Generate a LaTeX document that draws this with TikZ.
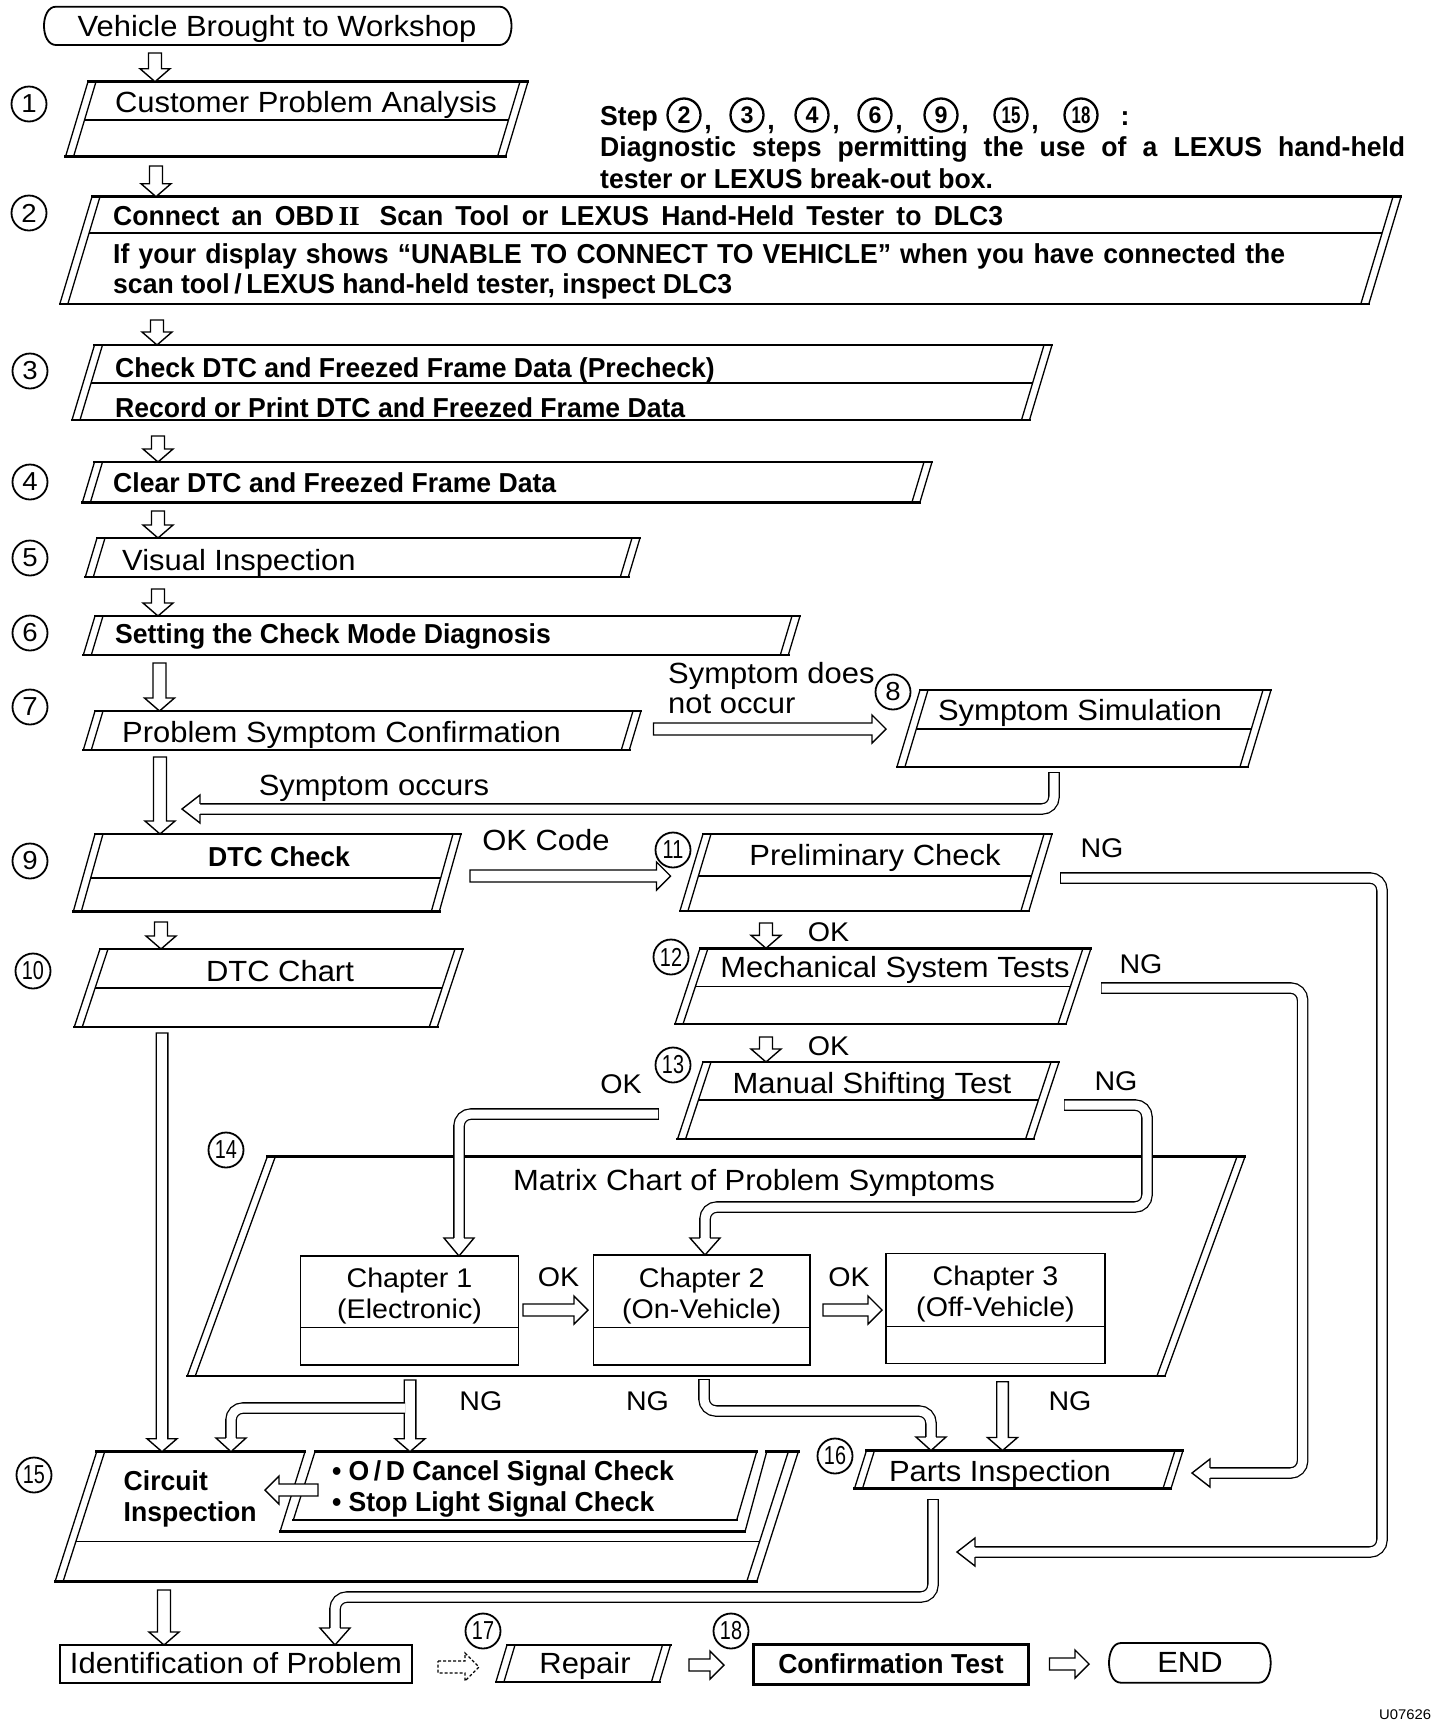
\documentclass[tikz,border=0pt]{standalone}
\usepackage{fontspec}
\setmainfont{Liberation Sans}[FakeStretch=1.06]
\newfontfamily\bfam{Liberation Sans}[FakeStretch=0.97]
\newfontfamily\romII{Liberation Serif}

\tikzset{
  edgeline/.style={line width=2.6pt, line cap=rect},
  sideline/.style={line width=1.3pt},
  divline/.style={line width=1.3pt},
  hol/.style={draw, fill=white, line width=1.4pt, line join=miter},
  pipe/.style={line width=1.3pt, double=white, double distance=9pt, rounded corners=12pt},
  rt/.style={inner sep=0pt, font=\fontsize{29.2}{30}\selectfont},
  rs/.style={inner sep=0pt, font=\fontsize{27}{28}\selectfont},
  bt/.style={inner sep=0pt, font=\bfam\bfseries\fontsize{27.4}{29}\selectfont},
  cnum/.style={circle, draw, line width=1.8pt, minimum size=35pt, inner sep=0pt, font=\fontsize{26}{26}\selectfont},
  snum/.style={circle, draw, line width=2.3pt, minimum size=33pt, inner sep=0pt, font=\bfam\bfseries\fontsize{24}{24}\selectfont},
}

% parallelogram with double slanted sides: xl, xr (top outer), ytop, ybot, slope
\newcommand\myBox[5]{%
  \pgfmathsetmacro\myS{#5*(#4-#3)}%
  \fill[white] (#1,#3) -- (#2,#3) -- ({#2-\myS},#4) -- ({#1-\myS},#4) -- cycle;
  \draw[edgeline] (#1,#3) -- (#2,#3) ({#1-\myS},#4) -- ({#2-\myS},#4);
  \draw[sideline] (#1,#3) -- ({#1-\myS},#4) ({#1+8},#3) -- ({#1+8-\myS},#4)
     (#2,#3) -- ({#2-\myS},#4) ({#2-8},#3) -- ({#2-8-\myS},#4);
}
% divider: xl, xr, ytop, ydiv, slope
\newcommand\myDiv[5]{%
  \pgfmathsetmacro\myD{#5*(#4-#3)}%
  \draw[divline] ({#1+8-\myD},#4) -- ({#2-8-\myD},#4);
}
% hollow down arrow [shaft width] x, y1, y2(tip)
\newcommand\dArr[4][13]{%
  \pgfmathsetmacro\myH{#1/2}%
  \draw[hol] ({#2-\myH},#3) -- ({#2-\myH},{#4-13}) -- ({#2-15},{#4-13}) -- (#2,#4)
    -- ({#2+15},{#4-13}) -- ({#2+\myH},{#4-13}) -- ({#2+\myH},#3) -- cycle;
}
% hollow right arrow [style] y, x1, x2(tip)
\newcommand\rArr[4][]{%
  \draw[hol,#1] (#3,{#2-6}) -- ({#4-14},{#2-6}) -- ({#4-14},{#2-14}) -- (#4,#2)
    -- ({#4-14},{#2+14}) -- ({#4-14},{#2+6}) -- (#3,{#2+6}) -- cycle;
}
% hollow left arrow y, x1(start, right), x2(tip)
\newcommand\lArr[3]{%
  \draw[hol] (#2,{#1-6}) -- ({#3+14},{#1-6}) -- ({#3+14},{#1-14}) -- (#3,#1)
    -- ({#3+14},{#1+14}) -- ({#3+14},{#1+6}) -- (#2,{#1+6}) -- cycle;
}
% pipe heads
\newcommand\pHeadD[3]{% x, ybase, ytip
  \draw[hol] ({#1-5.15},#2) -- ({#1-15},#2) -- (#1,#3) -- ({#1+15},#2) -- ({#1+5.15},#2);
}
\newcommand\pHeadL[3]{% y, xbase, xtip
  \draw[hol] (#2,{#1-5.15}) -- (#2,{#1-14}) -- (#3,#1) -- (#2,{#1+14}) -- (#2,{#1+5.15});
}
\newcommand\capV[2]{\draw[line width=1.3pt] ({#1-5.8},#2) -- ({#1+5.8},#2);}
\newcommand\capH[2]{\draw[line width=1.3pt] (#1,{#2-5.8}) -- (#1,{#2+5.8});}
\newcommand\twoD[1]{\scalebox{0.72}[1]{#1}}

\begin{document}
\begin{tikzpicture}[x=1pt,y=-1pt]
\useasboundingbox (0,0) rectangle (1440,1722);
\fill[white] (0,0) rectangle (1440,1722);

% ---------- start
\draw[line width=1.8pt] (56,6.7) -- (499.5,6.7) .. controls (515.5,6.7) and (515.5,45) .. (499.5,45)
  -- (56,45) .. controls (40,45) and (40,6.7) .. (56,6.7) -- cycle;
\node[rt,anchor=base] (t0) at (277,36.7) {Vehicle Brought to Workshop};

% ---------- boxes
\myBox{88}{528}{81.7}{156.7}{0.30}\myDiv{88}{528}{81.7}{120}{0.30}
\node[rt,anchor=base] (t1) at (306,112) {Customer Problem Analysis};

\myBox{92}{1401}{196.7}{304}{0.30}\myDiv{92}{1401}{196.7}{233}{0.30}
\node[bt,anchor=base west] (t2a) at (113,225) {\makebox[890pt][s]{Connect an OBD\,{\romII\bfseries II}\; Scan Tool or LEXUS Hand-Held Tester to DLC3}};
\node[bt,anchor=base west] (t2b) at (113,263) {\makebox[1172pt][s]{If your display shows “UNABLE TO CONNECT TO VEHICLE” when you have connected the}};
\node[bt,anchor=base west] (t2c) at (113,293) {scan tool\,/\,LEXUS hand-held tester, inspect DLC3};

\myBox{94.5}{1052}{345}{420}{0.30}\myDiv{94.5}{1052}{345}{383}{0.30}
\node[bt,anchor=base west] (t3a) at (115,377) {Check DTC and Freezed Frame Data (Precheck)};
\node[bt,anchor=base west] (t3b) at (115,417) {Record or Print DTC and Freezed Frame Data};

\myBox{94.5}{932}{462}{502.5}{0.30}
\node[bt,anchor=base west] (t4) at (113,492) {Clear DTC and Freezed Frame Data};

\myBox{97}{640}{538}{577}{0.30}
\node[rt,anchor=base west] (t5) at (122,570) {Visual Inspection};

\myBox{95}{800}{616}{655}{0.30}
\node[bt,anchor=base west] (t6) at (115,643) {Setting the Check Mode Diagnosis};

\myBox{95}{641}{711}{750}{0.30}
\node[rt,anchor=base west] (t7) at (122,742) {Problem Symptom Confirmation};

\myBox{920}{1271}{690}{767}{0.30}\myDiv{920}{1271}{690}{729}{0.30}
\node[rt,anchor=base] (t8) at (1080,720) {Symptom Simulation};

\myBox{95}{461}{834}{911.7}{0.28}\myDiv{95}{461}{834}{878}{0.28}
\node[bt,anchor=base] (t9) at (279,866) {DTC Check};

\myBox{100}{463}{949}{1027}{0.33}\myDiv{100}{463}{949}{988}{0.33}
\node[rt,anchor=base] (t10) at (280,981.7) {DTC Chart};

\myBox{703}{1052}{834}{911}{0.30}\myDiv{703}{1052}{834}{876}{0.30}
\node[rt,anchor=base] (t11) at (875,865) {Preliminary Check};

\myBox{700}{1091}{948.3}{1024}{0.33}\myDiv{700}{1091}{948.3}{986.7}{0.33}
\node[rt,anchor=base] (t12) at (895,977) {Mechanical System Tests};

\myBox{703}{1059}{1062}{1139}{0.33}\myDiv{703}{1059}{1062}{1100}{0.33}
\node[rt,anchor=base] (t13) at (872,1093) {Manual Shifting Test};

\myBox{267.3}{1245}{1156.7}{1376}{0.365}
\node[rt,anchor=base] (t14) at (754,1190) {Matrix Chart of Problem Symptoms};

% chapters
\draw[line width=1.5pt, fill=white] (300.7,1256) rectangle (518.3,1365);
\draw[line width=1.2pt] (300.7,1327.3) -- (518.3,1327.3);
\node[rs,anchor=base] (ch1a) at (409.5,1287) {Chapter 1};
\node[rs,anchor=base] (ch1b) at (409.5,1318) {(Electronic)};
\draw[line width=1.5pt, fill=white] (593.3,1255) rectangle (810,1365);
\draw[line width=1.2pt] (593.3,1327.3) -- (810,1327.3);
\node[rs,anchor=base] (ch2a) at (701.7,1287) {Chapter 2};
\node[rs,anchor=base] (ch2b) at (701.7,1318) {(On-Vehicle)};
\draw[line width=1.5pt, fill=white] (886,1253.5) rectangle (1105,1363.5);
\draw[line width=1.2pt] (886,1326.7) -- (1105,1326.7);
\node[rs,anchor=base] (ch3a) at (995.5,1285.5) {Chapter 3};
\node[rs,anchor=base] (ch3b) at (995.5,1316.5) {(Off-Vehicle)};

% box 15
\fill[white] (96.7,1451.7) -- (798.3,1451.7) -- (756.7,1581.7) -- (55,1581.7) -- cycle;
\draw[edgeline] (96.7,1451.7) -- (305,1451.7) (315,1451.7) -- (756.7,1451.7) (766.7,1451.7) -- (798.3,1451.7);
\draw[edgeline] (55,1581.7) -- (756.7,1581.7);
\draw[sideline] (96.7,1451.7) -- (55,1581.7) (104.7,1451.7) -- (63,1581.7)
  (798.3,1451.7) -- (756.7,1581.7) (788.3,1451.7) -- (746.7,1581.7);
\draw[divline] (75.9,1541.7) -- (759.5,1541.7);
\draw[sideline] (315,1451.7) -- (293.3,1520) (736.7,1520) -- (756.7,1451.7);
\draw[sideline] (305,1451.7) -- (280,1531.7) (745,1531.7) -- (766.7,1451.7);
\draw[edgeline] (293.3,1520) -- (736.7,1520) (280,1531.7) -- (745,1531.7);
\node[bt,anchor=base west] (t15a) at (123.5,1490) {Circuit};
\node[bt,anchor=base west] (t15b) at (123.5,1521.7) {Inspection};
\node[bt,anchor=base west] (t15c) at (331.8,1480) {\textbullet\ O\,/\,D Cancel Signal Check};
\node[bt,anchor=base west] (t15d) at (331.8,1511.7) {\textbullet\ Stop Light Signal Check};

\myBox{866.5}{1183}{1450.5}{1488.3}{0.316}
\node[rt,anchor=base] (t16) at (1000,1481.7) {Parts Inspection};

% bottom row
\draw[line width=2pt] (60,1645) rectangle (412.4,1683.3);
\node[rt,anchor=base] (tid) at (236,1673) {Identification of Problem};
\myBox{507}{670.5}{1645}{1682}{0.30}
\node[rt,anchor=base] (t17) at (585,1673) {Repair};
\draw[line width=3pt] (753,1644) rectangle (1028.8,1684);
\node[bt,anchor=base] (t18) at (891,1673) {Confirmation Test};
\draw[line width=1.8pt] (1121,1643) -- (1258.7,1643) .. controls (1274.7,1643) and (1274.7,1682.7) .. (1258.7,1682.7)
  -- (1121,1682.7) .. controls (1105,1682.7) and (1105,1643) .. (1121,1643) -- cycle;
\node[rt,anchor=base] (tend) at (1190,1672) {END};

% ---------- note (drawn after boxes)
\node[bt,anchor=base west] (n1) at (600,125) {Step};
\foreach \cx/\lab in {684/2,747/3,812/4,875/6,941/9,1011/15,1081/18}{
  \node[snum] (s\lab) at (\cx,115) {\ifnum\lab>9 \twoD{\lab}\else\lab\fi};
}
\foreach \cx in {708,771,836,899,965,1035}{
  \node[bt,anchor=base] at (\cx,129) {,};
}
\node[bt,anchor=base] (ncol) at (1125,125) {:};
\node[bt,anchor=base west] (n2) at (600,156) {\makebox[805pt][s]{Diagnostic steps permitting the use of a LEXUS hand-held}};
\node[bt,anchor=base west] (n3) at (600,188) {tester or LEXUS break-out box.};

% ---------- circled numbers
\node[cnum] (c1) at (29,104) {1};
\node[cnum] (c2) at (29,213) {2};
\node[cnum] (c3) at (30,371) {3};
\node[cnum] (c4) at (30,482) {4};
\node[cnum] (c5) at (30,558) {5};
\node[cnum] (c6) at (30,633) {6};
\node[cnum] (c7) at (30,707) {7};
\node[cnum] (c8) at (893,692) {8};
\node[cnum] (c9) at (30,861) {9};
\node[cnum] (c10) at (33,971) {\twoD{10}};
\node[cnum] (c11) at (673,850) {\twoD{11}};
\node[cnum] (c12) at (671,957) {\twoD{12}};
\node[cnum] (c13) at (673,1065) {\twoD{13}};
\node[cnum] (c14) at (226,1150) {\twoD{14}};
\node[cnum] (c15) at (34,1475) {\twoD{15}};
\node[cnum] (c16) at (835,1456) {\twoD{16}};
\node[cnum] (c17) at (483,1631) {\twoD{17}};
\node[cnum] (c18) at (731,1631) {\twoD{18}};

% ---------- labels
\node[rt,anchor=base west] (l1) at (668,683) {Symptom does};
\node[rt,anchor=base west] (l2) at (668,713) {not occur};
\node[rt,anchor=base] (l3) at (374,795) {Symptom occurs};
\node[rt,anchor=base] (l4) at (546,850) {OK Code};
\node[rs,anchor=base] (ng1) at (1102,857) {NG};
\node[rs,anchor=base] (ng2) at (1141,973) {NG};
\node[rs,anchor=base] (ng3) at (1116,1090) {NG};
\node[rs,anchor=base] (ok1) at (828.5,941.7) {OK};
\node[rs,anchor=base] (ok2) at (828.5,1055) {OK};
\node[rs,anchor=base] (ok3) at (621,1093) {OK};
\node[rs,anchor=base] (ok4) at (558.5,1286) {OK};
\node[rs,anchor=base] (ok5) at (849,1286) {OK};
\node[rs,anchor=base] (ng4) at (480.8,1410) {NG};
\node[rs,anchor=base] (ng5) at (647.5,1410) {NG};
\node[rs,anchor=base] (ng6) at (1070,1410) {NG};
\node[inner sep=0pt,anchor=base west,font=\fontsize{14}{14}\selectfont] (fid) at (1379,1719) {U07626};

% ---------- pipes
\capV{1054}{773}
\draw[pipe] (1054,773) -- (1054,809) -- (200,809);
\pHeadL{809}{200}{182}

\capH{1061}{878}
\draw[pipe] (1061,878) -- (1382,878) -- (1382,1552) -- (975,1552);
\pHeadL{1552}{975}{957}

\capH{1101.6}{988}
\draw[pipe] (1101.6,988) -- (1302.6,988) -- (1302.6,1473) -- (1210,1473);
\pHeadL{1473}{1210}{1192}

\capH{1064.7}{1105}
\draw[pipe] (1064.7,1105) -- (1147,1105) -- (1147,1207) -- (705,1207) -- (705,1238);
\pHeadD{705}{1238}{1255}

\capH{658}{1114}
\draw[pipe] (658,1114) -- (459,1114) -- (459,1238);
\pHeadD{459}{1238}{1256}

\dArr[11.6]{410}{1380}{1451.7}
\draw[pipe] (405,1408) -- (231,1408) -- (231,1438);
\pHeadD{231}{1438}{1451.7}

\capV{704}{1380}
\draw[pipe] (704,1380) -- (704,1411) -- (931,1411) -- (931,1437);
\pHeadD{931}{1437}{1450.5}

\dArr[11.6]{1002.5}{1381.7}{1450.5}

\capV{933}{1500}
\draw[pipe] (933,1500) -- (933,1597) -- (335,1597) -- (335,1628);
\pHeadD{335}{1628}{1645}

% ---------- straight arrows
\dArr{155}{53}{81.7}
\dArr{156}{166}{196.7}
\dArr{157}{320}{345}
\dArr{158}{436}{462}
\dArr{158}{511}{538}
\dArr{158}{589}{616}
\dArr{159.5}{663}{711}
\dArr{160}{757}{834}
\dArr{161}{922}{949}
\dArr[11.6]{162}{1033}{1451.7}
\dArr{766}{923}{948.3}
\dArr{766}{1037}{1062}
\dArr{164}{1590}{1645}

\rArr{729}{653.5}{886}
\rArr{876}{470}{670.5}
\rArr{1310}{523}{588}
\rArr{1310}{823}{882}
\lArr{1490}{318}{265}
\rArr[densely dashed, line width=1.1pt]{1667}{438}{479}
\rArr{1665}{689}{724}
\rArr{1664}{1049.5}{1089}
\end{tikzpicture}
\end{document}
